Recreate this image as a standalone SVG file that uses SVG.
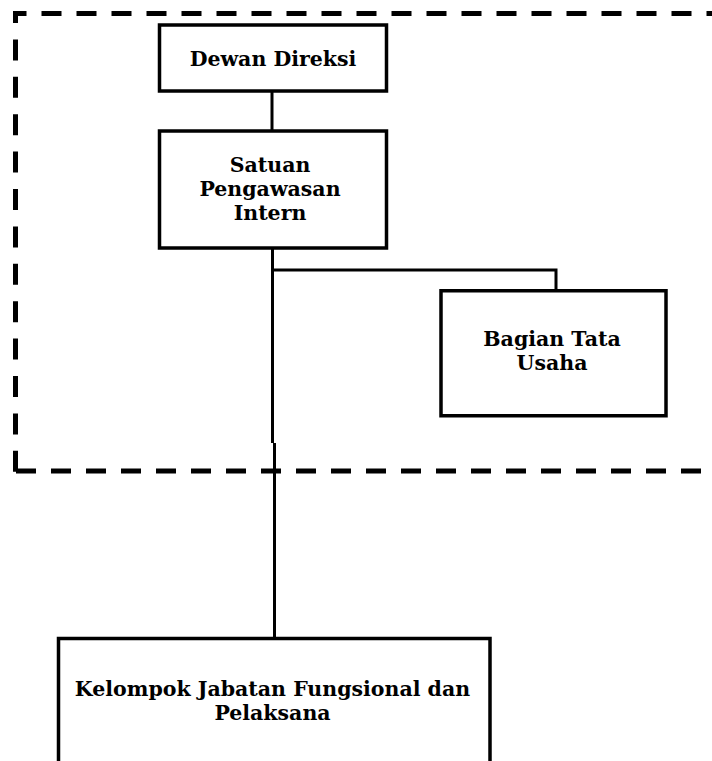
<svg xmlns="http://www.w3.org/2000/svg" width="712" height="761" viewBox="0 0 712 761">
<style>
.box{fill:#fff;stroke:#000;stroke-width:3.5}
.lbl{font-family:"DejaVu Serif","Liberation Serif",serif;font-weight:bold;font-size:20.5px;fill:#000;text-anchor:middle}
.con{fill:none;stroke:#000;stroke-width:3}
.dash{fill:none;stroke:#000;stroke-width:5}
</style>
<rect width="712" height="761" fill="#fff"/>
<g id="boundary">
<path class="dash" d="M13 13.5 H712" stroke-dasharray="20 15" stroke-dashoffset="6.5"/>
<path class="dash" d="M15.5 11 V473.5" stroke-dasharray="21 16.4" stroke-dashoffset="9"/>
<path class="dash" d="M16 471 H712" stroke-dasharray="20 15"/>
</g>
<g id="connectors">
<path class="con" d="M272 92 V131"/>
<path class="con" d="M272.5 249 V443"/>
<path class="con" d="M274.5 443 V638"/>
<path class="con" d="M272.5 270 H556 V290"/>
</g>
<g id="dewan-direksi">
<rect class="box" x="159.5" y="25" width="227" height="66"/>
<text class="lbl" x="273" y="66">Dewan Direksi</text>
</g>
<g id="satuan-pengawasan-intern">
<rect class="box" x="159.5" y="131" width="227" height="117"/>
<text class="lbl" x="270" y="172">Satuan</text>
<text class="lbl" x="270" y="196">Pengawasan</text>
<text class="lbl" x="270" y="220">Intern</text>
</g>
<g id="bagian-tata-usaha">
<rect class="box" x="441" y="290.75" width="225" height="125"/>
<text class="lbl" x="552" y="346">Bagian Tata</text>
<text class="lbl" x="552" y="370">Usaha</text>
</g>
<g id="kelompok-jabatan">
<rect class="box" x="58.5" y="638.5" width="431.5" height="200"/>
<text class="lbl" x="272.5" y="696">Kelompok Jabatan Fungsional dan</text>
<text class="lbl" x="272.5" y="720">Pelaksana</text>
</g>
</svg>
